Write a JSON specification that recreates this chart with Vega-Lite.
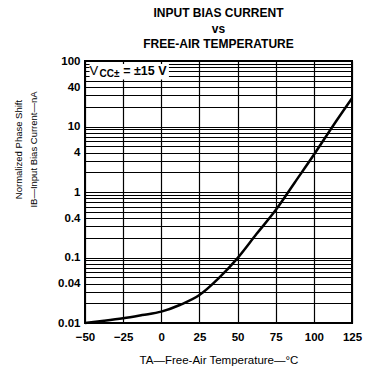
{
  "$schema": "https://vega.github.io/schema/vega-lite/v6.json",
  "autosize": {"type": "none"},
  "width": 267,
  "height": 262,
  "padding": {"left": 85, "top": 61, "right": 19, "bottom": 45},
  "background": "white",
  "title": {
    "text": ["INPUT BIAS CURRENT", "vs", "FREE-AIR TEMPERATURE"],
    "font": "Liberation Sans",
    "fontSize": 12,
    "fontWeight": "bold",
    "lineHeight": 15.5,
    "anchor": "middle",
    "frame": "group",
    "offset": 4,
    "color": "black"
  },
  "config": {
    "view": {"stroke": "black", "strokeWidth": 2},
    "axis": {
      "domain": false,
      "ticks": false,
      "grid": true,
      "gridColor": "black",
      "gridWidth": 1.2,
      "gridOpacity": 1,
      "labelFont": "Liberation Sans",
      "labelFontWeight": "bold",
      "labelFontSize": 11.5,
      "labelColor": "black",
      "titleFont": "Liberation Sans",
      "titleFontWeight": "normal",
      "titleColor": "black",
      "labelOverlap": false,
      "labelBound": false,
      "labelFlush": false
    }
  },
  "layer": [
    {
      "data": {
        "values": [
          {"t": -50, "ib": 0.01},
          {"t": -37.5, "ib": 0.0108},
          {"t": -25, "ib": 0.0118},
          {"t": -12.5, "ib": 0.0132},
          {"t": 0, "ib": 0.0149},
          {"t": 12.5, "ib": 0.019},
          {"t": 25, "ib": 0.0267},
          {"t": 37.5, "ib": 0.048},
          {"t": 50, "ib": 0.098},
          {"t": 62.5, "ib": 0.23},
          {"t": 75, "ib": 0.53},
          {"t": 87.5, "ib": 1.4},
          {"t": 100, "ib": 3.7},
          {"t": 112.5, "ib": 10.2},
          {"t": 125, "ib": 27}
        ]
      },
      "mark": {"type": "line", "color": "black", "strokeWidth": 2.5, "interpolate": "monotone"},
      "encoding": {
        "x": {
          "field": "t",
          "type": "quantitative",
          "scale": {"domain": [-50, 125], "nice": false, "zero": false},
          "axis": {
            "values": [-50, -25, 0, 25, 50, 75, 100, 125],
            "labelOverlap": false,
            "labelPadding": 8,
            "title": "TA—Free-Air Temperature—°C",
            "titleFontSize": 11.5,
            "titlePadding": 12
          }
        },
        "y": {
          "field": "ib",
          "type": "quantitative",
          "scale": {"type": "log", "domain": [0.01, 100], "nice": false},
          "axis": {
            "values": [0.01, 0.02, 0.03, 0.04, 0.05, 0.06, 0.07, 0.08, 0.09,
                       0.1, 0.2, 0.3, 0.4, 0.5, 0.6, 0.7, 0.8, 0.9,
                       1, 2, 3, 4, 5, 6, 7, 8, 9,
                       10, 20, 30, 40, 50, 60, 70, 80, 90, 100],
            "labelExpr": "indexof([0.01, 0.04, 0.1, 0.4, 1, 4, 10, 40, 100], datum.value) >= 0 ? format(datum.value, '~g') : ''",
            "labelPadding": 5,
            "title": ["Normalized Phase Shift", "IB—Input Bias Current—nA"],
            "titleFontSize": 9.5,
            "titleLineHeight": 15,
            "titleAngle": -90,
            "titleAlign": "center",
            "titleBaseline": "top",
            "titleX": -72,
            "titleY": 88
          }
        }
      }
    },
    {
      "data": {"values": [{}]},
      "mark": {"type": "rect", "color": "white"},
      "encoding": {
        "x": {"datum": -47, "type": "quantitative", "axis": {"values": [-50, -25, 0, 25, 50, 75, 100, 125], "labelOverlap": false, "labelPadding": 8, "title": "TA—Free-Air Temperature—°C", "titleFontSize": 11.5, "titlePadding": 12}},
        "x2": {"datum": 5},
        "y": {"datum": 90},
        "y2": {"datum": 52}
      }
    },
    {
      "data": {"values": [{}]},
      "mark": {"type": "text", "align": "left", "baseline": "alphabetic", "font": "Liberation Sans", "fontSize": 13, "color": "black"},
      "encoding": {
        "x": {"datum": -47, "type": "quantitative", "axis": {"values": [-50, -25, 0, 25, 50, 75, 100, 125], "labelOverlap": false, "labelPadding": 8, "title": "TA—Free-Air Temperature—°C", "titleFontSize": 11.5, "titlePadding": 12}},
        "y": {"datum": 62},
        "text": {"value": "V"}
      }
    },
    {
      "data": {"values": [{}]},
      "mark": {"type": "text", "align": "left", "baseline": "alphabetic", "font": "Liberation Sans", "fontSize": 10, "fontWeight": "bold", "color": "black"},
      "encoding": {
        "x": {"datum": -40.5, "type": "quantitative", "axis": {"values": [-50, -25, 0, 25, 50, 75, 100, 125], "labelOverlap": false, "labelPadding": 8, "title": "TA—Free-Air Temperature—°C", "titleFontSize": 11.5, "titlePadding": 12}},
        "y": {"datum": 56},
        "text": {"value": "CC±"}
      }
    },
    {
      "data": {"values": [{}]},
      "mark": {"type": "text", "align": "left", "baseline": "alphabetic", "font": "Liberation Sans", "fontSize": 12.5, "fontWeight": "bold", "color": "black"},
      "encoding": {
        "x": {"datum": -25, "type": "quantitative", "axis": {"values": [-50, -25, 0, 25, 50, 75, 100, 125], "labelOverlap": false, "labelPadding": 8, "title": "TA—Free-Air Temperature—°C", "titleFontSize": 11.5, "titlePadding": 12}},
        "y": {"datum": 62},
        "text": {"value": "= ±15 V"}
      }
    }
  ]
}
